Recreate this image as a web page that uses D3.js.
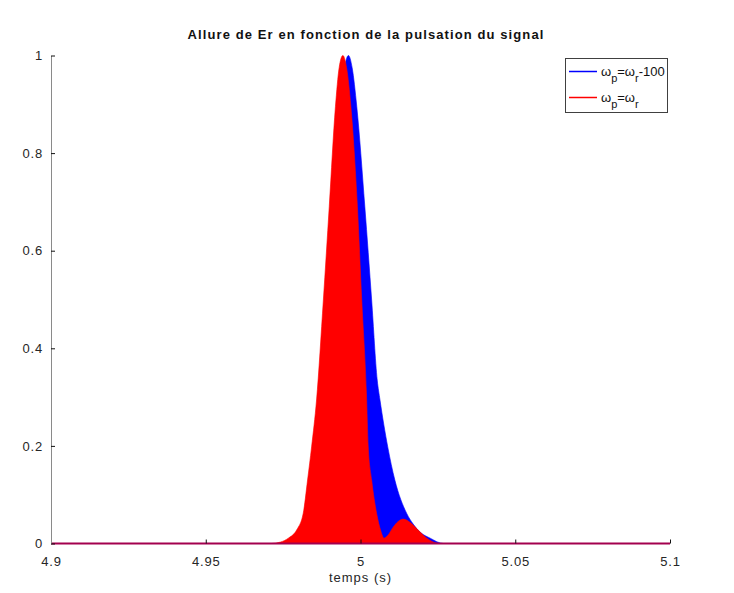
<!DOCTYPE html>
<html>
<head>
<meta charset="utf-8">
<script src="https://cdn.jsdelivr.net/npm/d3@7"></script>
<style>
  body { margin: 0; background: #fff; }
  svg { font-family: "Liberation Sans", Arial, sans-serif; }
</style>
</head>
<body>
<div id="chart"></div>
<script>
// envelope of each signal (time in s, normalized amplitude)
const blueT = [4.9, 4.9735, 4.9785, 4.9812, 4.9833, 4.9847, 4.9860, 4.9876, 4.9898, 4.9917, 4.9937, 4.9949, 4.9961,
               4.9973, 4.9988, 5.0014, 5.0036, 5.0054, 5.0063, 5.0088, 5.0111, 5.0149, 5.0170, 5.0195, 5.0225, 5.0268, 5.1];
const blueE = [0, 0, 0.011, 0.028, 0.062, 0.130, 0.198, 0.294, 0.499, 0.690, 0.895, 0.975, 1.0,
               0.975, 0.895, 0.690, 0.499, 0.335, 0.294, 0.198, 0.130, 0.062, 0.040, 0.022, 0.011, 0, 0];

const redT = [4.9, 4.9712, 4.9742, 4.9767, 4.9794, 4.9815, 4.9829, 4.9842, 4.9858, 4.9880, 4.9899, 4.9919, 4.9931, 4.9943,
              4.9955, 4.9969, 4.9990, 5.0004, 5.0019, 5.0025, 5.0036, 5.0052, 5.0066, 5.0076, 5.0090, 5.0105, 5.0138,
              5.0170, 5.0195, 5.0214, 5.0257, 5.1];
const redE = [0, 0, 0.003, 0.011, 0.028, 0.062, 0.130, 0.198, 0.294, 0.499, 0.690, 0.895, 0.975, 1.0,
              0.975, 0.895, 0.690, 0.499, 0.310, 0.198, 0.130, 0.062, 0.025, 0.011, 0.018, 0.033, 0.050,
              0.038, 0.022, 0.011, 0, 0];

const xTicks = [4.9, 4.95, 5, 5.05, 5.1];
const yTicks = [0, 0.2, 0.4, 0.6, 0.8, 1];

const w = 734,
h = 593,
m = {top: 55.5, right: 64, bottom: 49.5, left: 51};

const svg = d3.select("#chart")
    .append("svg")
    .attr("width", w)
    .attr("height", h);

const x = d3.scaleLinear([4.9, 5.1], [m.left, w - m.right]);
const y = d3.scaleLinear([0, 1], [h - m.bottom, m.top]);

const area = d3.area()
    .x(d => x(d[0]))
    .y0(y(0))
    .y1(d => y(d[1]))
    .curve(d3.curveMonotoneX);

// blue first, red drawn over it
const series = [
    {t: blueT, e: blueE, color: "#0000ff"},
    {t: redT, e: redE, color: "#ff0000"}
];
for (let s of series) {
    svg.append("path")
        .datum(s.t.map((t, i) => [t, s.e[i]]))
        .attr("fill", s.color)
        .attr("stroke", s.color)
        .attr("stroke-width", 0.6)
        .attr("d", area);
}

// zero line where both signals overlap
svg.append("line")
    .attr("x1", x(4.9)).attr("x2", x(5.1))
    .attr("y1", y(0)).attr("y2", y(0))
    .attr("stroke", "#a3004f")
    .attr("stroke-width", 2);

// axes, ticks pointing inward like Octave
const gx = svg.append("g")
    .attr("transform", `translate(0,${y(0)})`)
    .call(d3.axisBottom(x).tickValues(xTicks).tickFormat(d => d)
        .tickSizeInner(-4).tickSizeOuter(0).tickPadding(13));
gx.select(".domain").remove();

const gy = svg.append("g")
    .attr("transform", `translate(${m.left},0)`)
    .call(d3.axisLeft(y).tickValues(yTicks).tickFormat(d => d)
        .tickSizeInner(-4).tickSizeOuter(0).tickPadding(8));
gy.select(".domain").attr("stroke", "#8a8a8a");

svg.selectAll(".tick line").attr("stroke", "#111");
svg.selectAll(".tick text")
    .style("font-size", "13px")
    .style("letter-spacing", "0.8px")
    .style("font-family", "Liberation Sans, Arial, sans-serif")
    .attr("fill", "#262626");

// title and axis label
svg.append("text")
    .attr("x", 366).attr("y", 39)
    .attr("text-anchor", "middle")
    .style("font-size", "13px")
    .style("letter-spacing", "1.1px")
    .style("font-weight", "bold")
    .attr("fill", "#111")
    .text("Allure de Er en fonction de la pulsation du signal");

svg.append("text")
    .attr("x", x(5)).attr("y", 582)
    .attr("text-anchor", "middle")
    .style("font-size", "13px")
    .style("letter-spacing", "1px")
    .attr("fill", "#262626")
    .text("temps (s)");

// legend
svg.append("rect")
    .attr("x", 565.5).attr("y", 58.5)
    .attr("width", 102).attr("height", 54)
    .attr("fill", "#fff")
    .attr("stroke", "#404040")
    .attr("stroke-width", 1);

const legend = [
    {color: "#0000ff", tail: "-100", yy: 71.5},
    {color: "#ff0000", tail: "", yy: 97.5}
];
for (let l of legend) {
    svg.append("path")
        .attr("d", `M569,${l.yy}H597`)
        .style("stroke", l.color)
        .style("stroke-width", "1.5px");
    const t = svg.append("text")
        .attr("x", 601).attr("y", l.yy + 4)
        .style("font-size", "13px")
        .attr("fill", "#111");
    t.append("tspan").text("ω");
    t.append("tspan").attr("dy", 6).style("font-size", "11px").text("p");
    t.append("tspan").attr("dy", -6).text("=ω");
    t.append("tspan").attr("dy", 6).style("font-size", "11px").text("r");
    if (l.tail) t.append("tspan").attr("dy", -6).text(l.tail);
}
</script>
</body>
</html>
